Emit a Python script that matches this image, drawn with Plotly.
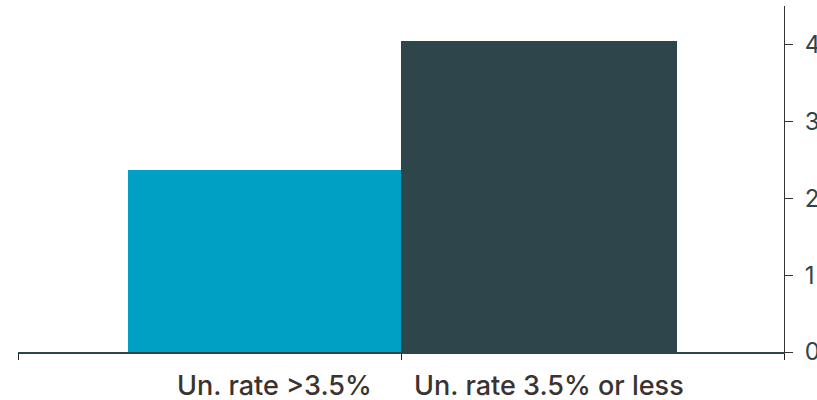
import plotly.graph_objects as go

categories = ["Un. rate >3.5%", "Un. rate 3.5% or less"]
values = [2.37, 4.04]
bar_offsets = [-0.213, -0.5]
bar_widths = [0.713, 0.72]
bar_colors = ["#00A0C4", "#2E464B"]
y_ticks = [0, 1, 2, 3, 4]

centers = [i + o + w / 2 for i, (o, w) in enumerate(zip(bar_offsets, bar_widths))]

fig = go.Figure()
fig.add_trace(go.Bar(
    x=categories, y=values, offset=bar_offsets, width=bar_widths,
    marker=dict(color=bar_colors, line=dict(width=0)),
    showlegend=False, hoverinfo="skip",
))
# invisible trace on label axis
fig.add_trace(go.Scatter(x=centers, y=[0, 0], xaxis="x2", mode="markers",
                         marker=dict(opacity=0), showlegend=False, hoverinfo="skip"))

fig.update_layout(
    width=817, height=400,
    margin=dict(l=18, r=33, t=6, b=48, autoexpand=False),
    paper_bgcolor="white", plot_bgcolor="white",
    xaxis=dict(
        type="category", categoryorder="array", categoryarray=categories,
        range=[-0.5, 1.5], tickson="boundaries", ticks="outside", ticklen=6,
        tickcolor="#222222", tickwidth=1, showticklabels=False, automargin=False,
        showline=True, linecolor="#2E464B", linewidth=2, showgrid=False, zeroline=False,
    ),
    xaxis2=dict(
        overlaying="x", anchor="y", side="bottom", type="linear", range=[-0.5, 1.5],
        tickvals=centers, ticktext=categories, ticks="", showgrid=False, zeroline=False,
        showline=False, ticklabelshift=10, ticklabelstandoff=15, automargin=False,
        tickfont=dict(family="Inter", size=27, color="#3A3330", weight=500),
    ),
    yaxis=dict(
        side="right", range=[0, 4.5], tickvals=y_ticks, ticks="outside", ticklen=8,
        tickcolor="#333333", tickwidth=1, showline=True, linecolor="#333333", linewidth=1,
        showgrid=False, zeroline=False, ticklabelstandoff=7, automargin=False,
        tickfont=dict(family="Inter", size=24, color="#2E464B"),
    ),
    bargap=0,
)

fig.write_html("out.html")
